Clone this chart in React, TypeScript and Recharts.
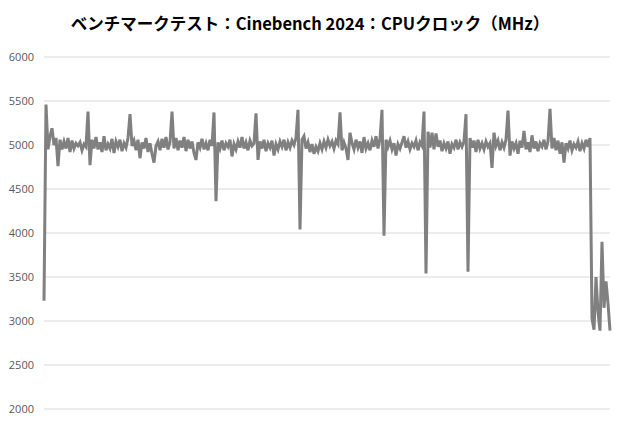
import React from 'react';
import { LineChart, Line, XAxis, YAxis, CartesianGrid } from 'recharts';

const chartTitle = 'ベンチマークテスト：Cinebench 2024：CPUクロック（MHz）';

const yTicks = [2000, 2500, 3000, 3500, 4000, 4500, 5000, 5500, 6000];

// CPU clock samples (MHz)
const clockMHz = [
  3230, 5460, 4950, 5100, 5190, 5000, 5080, 4760, 5060, 4950,
  5040, 4960, 5080, 4920, 5050, 4960, 5020, 4990, 5030, 4940,
  5010, 4980, 5380, 4770, 5060, 4960, 5090, 4950, 5030, 4920,
  5100, 4940, 5010, 4960, 5070, 4910, 5040, 4980, 5060, 4930,
  5020, 4970, 5080, 5350, 4990, 5050, 4940, 5060, 4850, 5030,
  4960, 5080, 4920, 5020, 4900, 4800, 4990, 5040, 4940, 5070,
  4970, 5090, 4950, 5030, 5380, 4960, 5080, 4940, 5050, 4970,
  5090, 4930, 5060, 4960, 5040, 4910, 4830, 5030, 4970, 5070,
  4950, 5020, 4940, 5060, 4990, 5370, 4360, 5030, 4960, 5050,
  4940, 5020, 4980, 5060, 4870, 5010, 4950, 5040, 4970, 5090,
  4960, 5030, 4940, 5050, 4990, 5020, 5360, 4830, 5040, 4960,
  5060, 4930, 5020, 4970, 5050, 4880, 5010, 4950, 5040, 4980,
  5060, 4940, 5030, 4970, 5050, 5000, 5080, 5400, 4040, 5060,
  5100, 4960, 5030, 4920, 5010, 4900, 4980, 4930, 5020, 4950,
  5040, 4970, 5060, 4990, 5040, 4960, 5050, 5010, 5370, 4940,
  5030, 4960, 4830, 5140, 5020, 4950, 5060, 4970, 5040, 4910,
  5090, 4960, 5020, 4940, 5050, 4980, 5100, 4960, 5070, 5400,
  3970, 5060, 4980, 5050, 4950, 5020, 4880, 5010, 4960, 5030,
  5100, 4970, 5040, 4950, 5020, 4980, 5050, 4940, 5030, 4990,
  5380, 3540, 5150, 4970, 5140, 4950, 5130, 4980, 5050, 4930,
  5020, 4960, 5040, 4900, 5010, 4970, 5060, 4950, 5030, 4980,
  5040, 5350, 3560, 5080, 4970, 5050, 4920, 5060, 4960, 5020,
  4950, 5040, 4980, 5020, 4740, 5140, 4990, 5050, 4940, 5030,
  4970, 5060, 5390, 4880, 5040, 4960, 5020, 4900, 5050, 4970,
  5160, 4950, 5030, 4920, 5110, 4960, 5040, 4930, 5020, 4980,
  5060, 4950, 5040, 5410, 4960, 5080, 4940, 5050, 4900, 5030,
  4800, 5020, 4960, 5050, 4940, 5010, 4970, 5040, 4930, 5020,
  4960, 5060, 4980, 5080, 3030, 2900, 3500, 3100, 2890, 3900,
  3150, 3450, 3200, 2890,
];

const data = clockMHz.map((v, i) => ({ i, mhz: v }));

export default function App() {
  return (
    <div style={{ position: 'relative', width: 620, height: 430, background: '#fff' }}>
      <style>{`body { margin: 0; }`}</style>
      <div
        style={{
          position: 'absolute',
          top: 10,
          left: 0,
          width: 620,
          textAlign: 'center',
          fontFamily: '"Noto Sans CJK JP", "Noto Sans", sans-serif',
          fontWeight: 700,
          fontSize: 16.5,
          lineHeight: '26px',
          color: '#000',
        }}
      >
        {chartTitle}
      </div>
      <LineChart
        width={620}
        height={430}
        data={data}
        margin={{ top: 57, right: 10, left: 0, bottom: 21 }}
      >
        <CartesianGrid vertical={false} stroke="#d9d9d9" />
        <XAxis dataKey="i" type="number" domain={[0, clockMHz.length - 1]} hide />
        <YAxis
          type="number"
          domain={[2000, 6000]}
          ticks={yTicks}
          width={44}
          axisLine={false}
          tickLine={false}
          tickSize={0}
          tickMargin={10}
          tick={{ fill: '#595959', fontSize: 11, fontFamily: '"Open Sans", sans-serif' }}
        />
        <Line
          type="linear"
          dataKey="mhz"
          stroke="#808080"
          strokeWidth={3}
          dot={false}
          isAnimationActive={false}
        />
      </LineChart>
    </div>
  );
}
